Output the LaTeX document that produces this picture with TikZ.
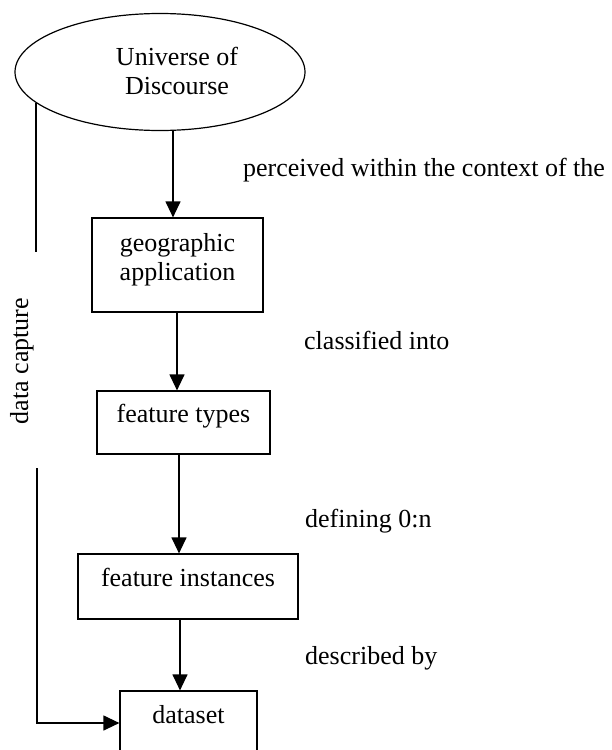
\documentclass[tikz,border=0pt]{standalone}
\usepackage{fontspec}
\setmainfont{Liberation Serif}
\usetikzlibrary{arrows.meta,shapes.geometric}
\begin{document}
\begin{tikzpicture}[x=1pt,y=-1pt,
  every node/.style={font=\fontsize{26}{28.5}\selectfont, inner sep=0pt},
  line/.style={line width=1.2pt, black},
  arr/.style={line, -{Triangle[length=16pt,width=15pt]}},
  boxnode/.style={draw, line width=1.2pt, rectangle, inner sep=0pt, text height=12pt, text depth=12pt},
  lbl/.style={anchor=base west}]
\useasboundingbox (0,0) rectangle (612,750);
% nodes
\node[ellipse, draw, line width=1.2pt, minimum width=290pt, minimum height=117pt] (uod) at (160,72) {};
\node[anchor=base] (uodtext) at (177,94) {\begin{tabular}[b]{@{}c@{}}Universe of\\Discourse\end{tabular}};
\node[boxnode, minimum width=171pt, minimum height=94pt, text height=31pt, text depth=0.5pt] (geo) at (177.5,265)
  {\begin{tabular}[b]{@{}c@{}}geographic\\application\end{tabular}};
\node[boxnode, minimum width=173pt, minimum height=63pt] (ft) at (183.5,422.5) {feature types};
\node[boxnode, minimum width=220pt, minimum height=65pt] (fi) at (188,586.5) {feature instances};
\node[boxnode, minimum width=137pt, minimum height=64pt] (ds) at (188.5,723) {dataset};
% labels
\node[lbl] (l1) at (243,176) {perceived within the context of the};
\node[lbl] (l2) at (304,349) {classified into};
\node[lbl] (l3) at (305,527) {defining 0:n};
\node[lbl] (l4) at (305,664) {described by};
\node[rotate=90, anchor=base] (dctext) at (28,361) {data capture};
% helper coordinates
\coordinate (c1) at (173,0);
\coordinate (c2) at (177,0);
\coordinate (c3) at (179,0);
\coordinate (c4) at (180,0);
\coordinate (dc1) at (37,252);
\coordinate (dc2) at (37,468);
% connectors
\draw[arr] (uod.south -| c1) -- (geo.north -| c1);
\draw[arr] (geo.south -| c2) -- (ft.north -| c2);
\draw[arr] (ft.south -| c3) -- (fi.north -| c3);
\draw[arr] (fi.south -| c4) -- (ds.north -| c4);
\draw[line] (uod.194) -- (uod.194 |- dc1);
\draw[arr] (dc2) |- (ds.west);
\end{tikzpicture}
\end{document}
